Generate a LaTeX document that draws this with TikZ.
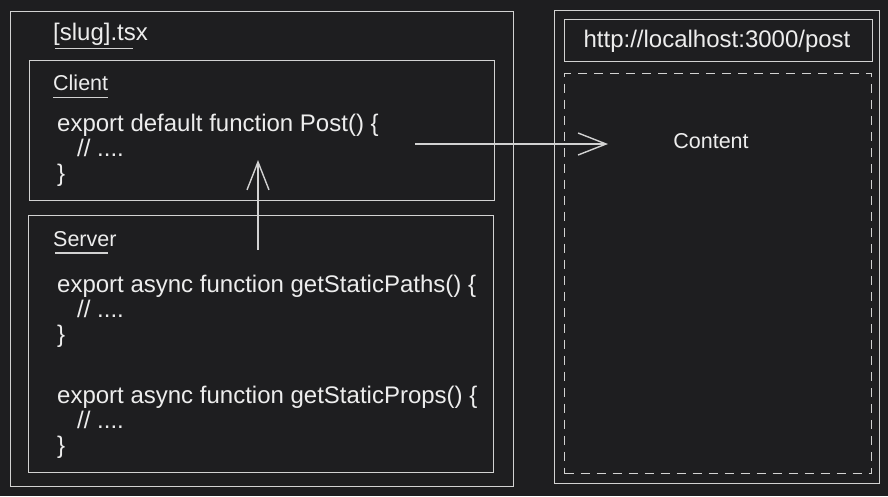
\documentclass[tikz,border=0pt]{standalone}
\usepackage{fontspec}
\setmainfont{Liberation Sans}
\usetikzlibrary{arrows.meta}
\definecolor{bg}{HTML}{1E1E20}
\definecolor{ink}{HTML}{D2D2D2}
\definecolor{txt}{HTML}{EDEDED}
\begin{document}
\begin{tikzpicture}[x=1pt,y=-1pt,
  box/.style={draw=ink, line width=1.4pt, anchor=north west, inner sep=0pt},
  dbox/.style={box, dash pattern=on 9pt off 7pt},
  code/.style={anchor=base west, inner sep=0pt, text=txt, font=\fontsize{24}{28}\selectfont},
  lab/.style={anchor=base west, inner sep=0pt, text=txt, font=\fontsize{21.5}{26}\selectfont},
  uline/.style={draw=ink, line width=1.3pt},
  arr/.style={draw=ink, line width=1.4pt, -{Straight Barb[length=28pt,width=22pt,line width=1.4pt]}}]
\fill[bg] (0,0) rectangle (888,496);
\useasboundingbox (0,0) rectangle (888,496);
% left file box
\node[box, minimum width=503pt, minimum height=475pt] (file) at (10,11) {};
\node[code] (title) at (53,40) {[slug].tsx};
\draw[uline] (55,48.5) -- (133,48.5);
% client box
\node[box, minimum width=465pt, minimum height=140pt] (client) at (29,60) {};
\node[lab] (clientlab) at (53,90) {Client};
\draw[uline] (53,97.5) -- (108,97.5);
\node[code] (c1) at (57,131) {export default function Post() \{};
\node[code] (c2) at (77,156) {// ....};
\node[code] (c3) at (57,181) {\}};
% server box
\node[box, minimum width=465pt, minimum height=257pt] (server) at (28,215) {};
\node[lab] (serverlab) at (53,246) {Server};
\draw[uline] (55,253) -- (108,253);
\node[code] (s1) at (57,292) {export async function getStaticPaths() \{};
\node[code] (s2) at (77,317) {// ....};
\node[code] (s3) at (57,342) {\}};
\node[code] (s4) at (57,403) {export async function getStaticProps() \{};
\node[code] (s5) at (77,428) {// ....};
\node[code] (s6) at (57,453) {\}};
% browser
\node[box, minimum width=325pt, minimum height=473pt] (browser) at (554,10) {};
\node[box, minimum width=308pt, minimum height=42pt] (urlbox) at (564,19) {};
\node[code, anchor=base] (url) at (717,47) {http://localhost:3000/post};
\node[dbox, minimum width=307pt, minimum height=400pt] (content) at (564,73) {};
\node[lab, anchor=base] (contentlab) at (711,148) {Content};
% arrows
\coordinate (upS) at (258,250);
\coordinate (upE) at (258,160);
\draw[arr] (upS) -- (upE);
\coordinate (rS) at (415,144);
\coordinate (rE) at (608,144);
\draw[arr] (rS) -- (rE);
\end{tikzpicture}
\end{document}
